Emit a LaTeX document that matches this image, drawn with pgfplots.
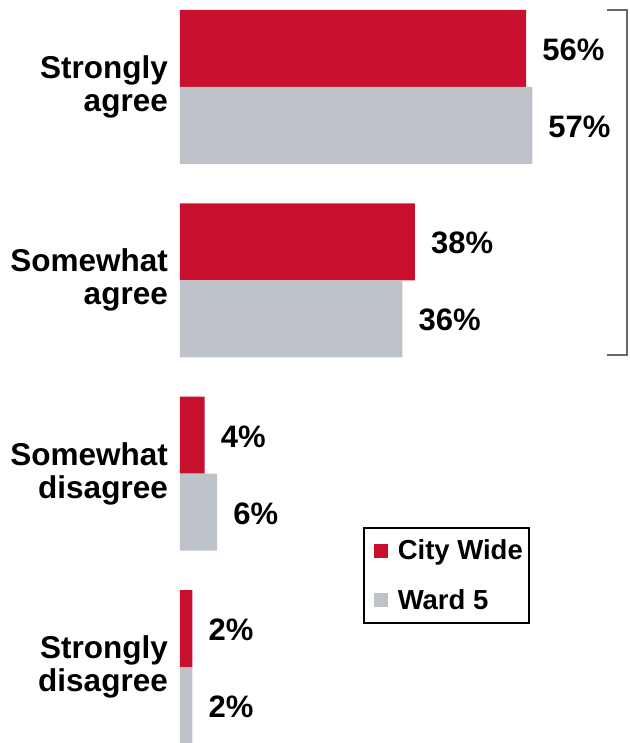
\documentclass[border=0pt]{standalone}
\usepackage{fontspec}
\setmainfont{Liberation Sans}
\usepackage{pgfplots}
\pgfplotsset{compat=1.18}
\definecolor{cwred}{HTML}{C8102E}
\definecolor{wgray}{HTML}{BDC3C9}
\definecolor{brk}{HTML}{5F6B73}
\begin{document}
\begin{tikzpicture}
\useasboundingbox (-180pt,0pt) rectangle (449pt,743pt);
\begin{axis}[
  scale only axis,
  width=449pt, height=743pt,
  xmin=0, xmax=72.65,
  ymin=-0.393, ymax=3.45,
  axis line style={draw=none},
  xtick=\empty,
  ytick={0,1,2,3},
  yticklabels={{Strongly\\disagree},{Somewhat\\disagree},{Somewhat\\agree},{Strongly\\agree}},
  major tick length=0pt,
  yticklabel style={align=right, inner sep=0pt, xshift=-12pt,
    font=\fontsize{31.5}{33}\selectfont\bfseries},
  /pgf/number format/assume math mode=true,
  xbar, bar width=77pt,
  clip=false,
  point meta=x,
  nodes near coords={\pgfmathprintnumber{\pgfplotspointmeta}\%},
  every node near coord/.append style={anchor=west, inner sep=0pt, xshift=16pt, yshift=-1.5pt,
    font=\fontsize{31}{34}\selectfont\bfseries, text=black},
  legend style={at={(0.4076,0.2907)}, anchor=north west, draw=black, line width=1.5pt,
    font=\fontsize{27.5}{32}\selectfont\bfseries, inner xsep=4pt, inner ysep=10pt,
    row sep=24pt, cells={anchor=west, text height=20pt, text depth=6pt, inner xsep=0.5pt}},
  legend cell align=left,
  legend image code/.code={\fill[#1, draw=none] (6pt,-7pt) rectangle (20pt,7pt); \path (0pt,0pt) (28pt,0pt);},
]
\addplot[fill=cwred, draw=none, bar shift=38.5pt] coordinates {(56,3) (38,2) (4,1) (2,0)};
\addlegendentry{City Wide}
\addplot[fill=wgray, draw=none, bar shift=-38.5pt] coordinates {(57,3) (36,2) (6,1) (2,0)};
\addlegendentry{Ward 5}
\draw[brk, line width=2pt] (axis cs:69.1,3.399) -- (axis cs:72.3,3.399) -- (axis cs:72.3,1.614) -- (axis cs:69.1,1.614);
\end{axis}
\end{tikzpicture}
\end{document}
